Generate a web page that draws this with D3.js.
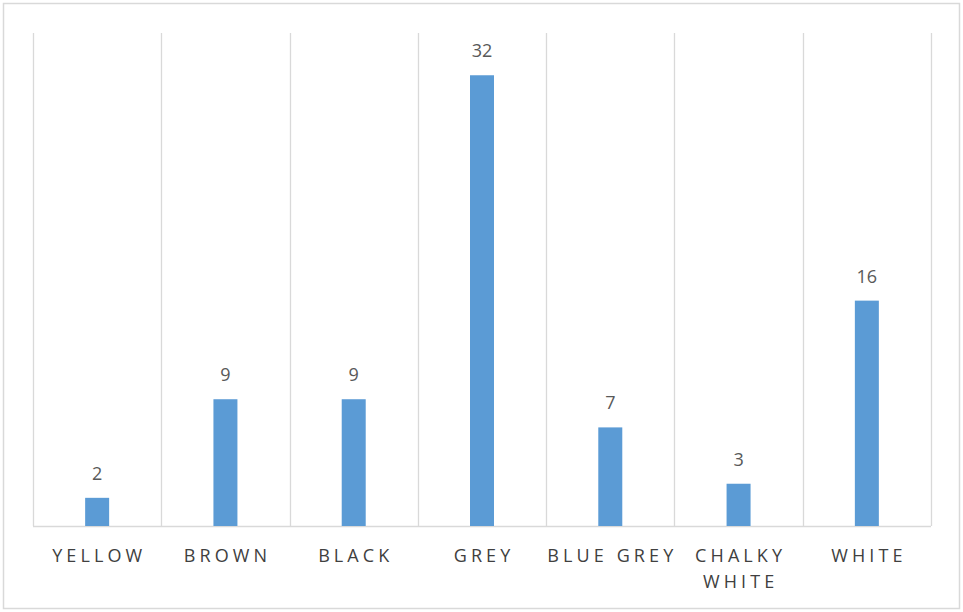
<!DOCTYPE html>
<html>
<head>
<meta charset="utf-8">
<script src="https://cdn.jsdelivr.net/npm/d3@7"></script>
<style>
  body { margin: 0; background: #fff; }
  svg { display: block; font-family: "Open Sans", sans-serif; }
</style>
</head>
<body>
<svg id="chart" width="963" height="612"></svg>
<script>
const categories = ["YELLOW", "BROWN", "BLACK", "GREY", "BLUE GREY", "CHALKY WHITE", "WHITE"];
const counts = [2, 9, 9, 32, 7, 3, 16];
// Excel wraps this one label onto two lines
const labelLines = [["YELLOW"], ["BROWN"], ["BLACK"], ["GREY"], ["BLUE GREY"], ["CHALKY", "WHITE"], ["WHITE"]];

const width = 963, height = 612;
const margin = { top: 33, right: 32, bottom: 86, left: 33 };
const svg = d3.select("#chart");

svg.append("rect")
  .attr("x", 3.5).attr("y", 3.5)
  .attr("width", width - 7).attr("height", height - 7)
  .attr("fill", "#fff").attr("stroke", "#d9d9d9").attr("stroke-width", 1.5);

const x = d3.scaleBand()
  .domain(categories)
  .range([margin.left, width - margin.right])
  .paddingInner(0).paddingOuter(0);

const y = d3.scaleLinear()
  .domain([0, 35])
  .range([height - margin.bottom, margin.top]);

const bounds = categories.map(c => x(c)).concat([x.range()[1]]);
svg.append("g")
  .selectAll("line")
  .data(bounds)
  .join("line")
    .attr("x1", d => Math.round(d) + 0.5).attr("x2", d => Math.round(d) + 0.5)
    .attr("y1", y(35)).attr("y2", y(0))
    .attr("stroke", "#d9d9d9").attr("stroke-width", 1.3);

svg.append("line")
  .attr("x1", margin.left).attr("x2", width - margin.right)
  .attr("y1", y(0) + 0.5).attr("y2", y(0) + 0.5)
  .attr("stroke", "#d9d9d9").attr("stroke-width", 1.3);

const barW = 24;
svg.append("g")
  .selectAll("rect")
  .data(categories)
  .join("rect")
    .attr("x", d => x(d) + x.bandwidth() / 2 - barW / 2)
    .attr("y", (d, i) => y(counts[i]))
    .attr("width", barW)
    .attr("height", (d, i) => y(0) - y(counts[i]))
    .attr("fill", "#5b9bd5");

svg.append("g")
  .selectAll("text")
  .data(categories)
  .join("text")
    .attr("x", d => x(d) + x.bandwidth() / 2)
    .attr("y", (d, i) => y(counts[i]) - 18)
    .attr("text-anchor", "middle")
    .attr("font-size", 18)
    .attr("fill", "#595959")
    .text((d, i) => counts[i]);

const spacing = 4.1;
const labels = svg.append("g")
  .selectAll("text")
  .data(categories)
  .join("text")
    .attr("text-anchor", "middle")
    .attr("font-size", 18)
    .attr("letter-spacing", spacing + "px")
    .attr("fill", "#404040");

labels.each(function (d, i) {
  const t = d3.select(this);
  labelLines[i].forEach((line, j) => {
    t.append("tspan")
      .attr("x", x(d) + x.bandwidth() / 2 + spacing / 2)
      .attr("y", 562 + j * 26)
      .text(line);
  });
});
</script>
</body>
</html>
